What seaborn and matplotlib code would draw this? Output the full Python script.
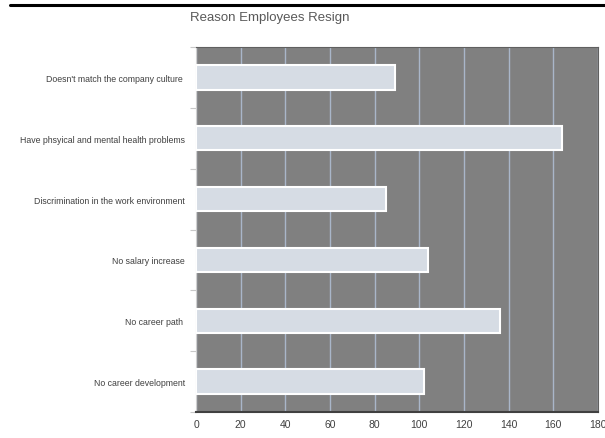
import matplotlib
matplotlib.use("Agg")
import matplotlib.pyplot as plt
from matplotlib.lines import Line2D
import seaborn as sns
import pandas as pd
import numpy as np

categories = [
    "Doesn't match the company culture ",
    "Have phsyical and mental health problems",
    "Discrimination in the work environment",
    "No salary increase",
    "No career path ",
    "No career development",
]
values = [89, 164, 85, 104, 136, 102]
x_ticks = [0, 20, 40, 60, 80, 100, 120, 140, 160, 180]
title = "Reason Employees Resign"

sns.set_theme(style="white")
plt.rcParams['font.family'] = ['Liberation Sans', 'DejaVu Sans']

df = pd.DataFrame({"reason": categories, "count": values})

fig = plt.figure(figsize=(6.05, 4.39), dpi=100)
ax = fig.add_axes([196/605, 26/439, (598-196)/605, (413-48)/439])
ax.set_facecolor("#808080")

sns.barplot(data=df, y="reason", x="count", orient="h", color="#d6dce4",
            edgecolor="white", linewidth=1.5, width=0.4, ax=ax, zorder=3,
            saturation=1)

ax.set_xlim(0, 180)
ax.set_ylim(len(categories) - 0.5, -0.5)
ax.set_xticks(x_ticks)
ax.set_xticklabels([str(t) for t in x_ticks])
ax.xaxis.grid(True, color="#a9b6c9", linewidth=1.0, zorder=1)
ax.set_axisbelow(True)
ax.set_xlabel("")
ax.set_ylabel("")

ax.tick_params(axis="x", length=0, pad=5, labelsize=7.5, labelcolor="#404040")
ax.tick_params(axis="y", which="major", length=0, pad=8, labelsize=6.3, labelcolor="#404040")
ax.set_yticks(np.arange(-0.5, len(categories), 1.0), minor=True)
ax.tick_params(axis="y", which="minor", length=4, color="#c8c8c8", width=0.8, left=True)

for s in ["top", "right"]:
    ax.spines[s].set_visible(True)
    ax.spines[s].set_color("#606060")
    ax.spines[s].set_linewidth(0.8)
ax.spines["left"].set_color("#d0d0d0")
ax.spines["left"].set_linewidth(0.8)
ax.spines["bottom"].set_color("#404040")
ax.spines["bottom"].set_linewidth(1.5)

fig.text(270/605, 1 - 18/439, title, ha="center", va="center",
         fontsize=9.5, color="#595959")
fig.add_artist(Line2D([10/605, 1.0], [1 - 6/439, 1 - 6/439], color="black",
                      linewidth=2.2, transform=fig.transFigure))

fig.savefig("out.png", dpi=100)
